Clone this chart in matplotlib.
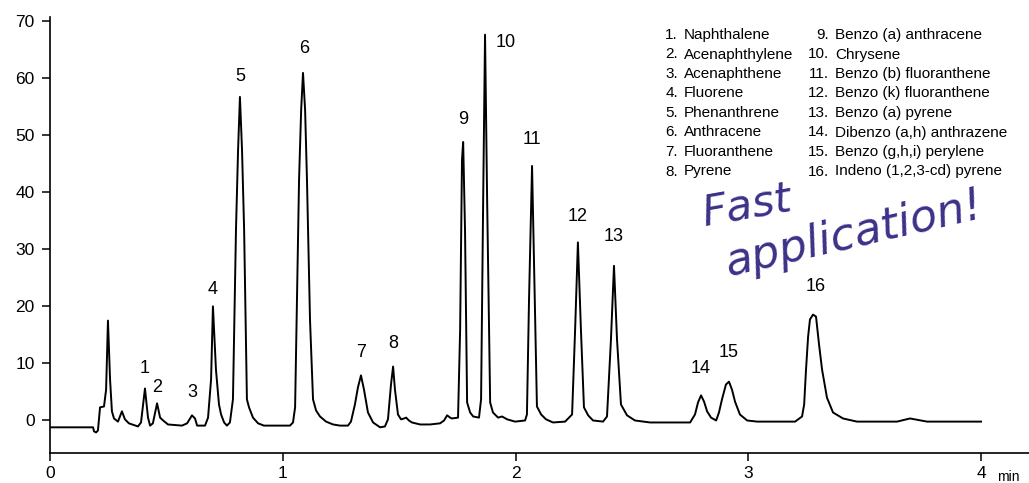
import matplotlib
matplotlib.use('Agg')
import matplotlib.pyplot as plt

plt.rcParams['font.family'] = ['Liberation Sans', 'DejaVu Sans']

# chromatogram trace (time in min, signal)
time = [0.0, 0.185, 0.189, 0.198, 0.206, 0.215, 0.232, 0.241, 0.249, 0.258,
        0.266, 0.275, 0.292, 0.309, 0.322, 0.339, 0.378, 0.391, 0.408, 0.421,
        0.430, 0.442, 0.460, 0.473, 0.486, 0.507, 0.567, 0.589, 0.610, 0.623,
        0.632, 0.666, 0.679, 0.692, 0.700, 0.713, 0.726, 0.735, 0.748, 0.760,
        0.773, 0.786, 0.799, 0.808, 0.816, 0.825, 0.834, 0.846, 0.855, 0.872,
        0.894, 0.919, 1.031, 1.044, 1.053, 1.061, 1.070, 1.079, 1.087, 1.096,
        1.104, 1.117, 1.130, 1.143, 1.160, 1.186, 1.216, 1.246, 1.280, 1.293,
        1.310, 1.323, 1.336, 1.349, 1.366, 1.388, 1.418, 1.439, 1.452, 1.465,
        1.474, 1.482, 1.495, 1.508, 1.521, 1.530, 1.542, 1.555, 1.590, 1.633,
        1.676, 1.693, 1.706, 1.719, 1.727, 1.753, 1.762, 1.770, 1.775, 1.783,
        1.792, 1.805, 1.818, 1.843, 1.852, 1.861, 1.869, 1.878, 1.891, 1.903,
        1.925, 1.942, 1.964, 1.998, 2.041, 2.049, 2.058, 2.071, 2.079, 2.092,
        2.110, 2.131, 2.161, 2.213, 2.243, 2.256, 2.268, 2.281, 2.294, 2.312,
        2.333, 2.376, 2.393, 2.410, 2.423, 2.436, 2.453, 2.479, 2.513, 2.578,
        2.750, 2.771, 2.784, 2.797, 2.810, 2.823, 2.840, 2.862, 2.874, 2.887,
        2.904, 2.917, 2.930, 2.943, 2.964, 2.995, 3.038, 3.201, 3.231, 3.240,
        3.248, 3.257, 3.265, 3.278, 3.291, 3.304, 3.317, 3.338, 3.364, 3.407,
        3.467, 3.639, 3.695, 3.768, 4.0]
signal = [-1.2, -1.2, -1.9, -2.1, -1.75, 2.3, 2.45, 5.4, 17.5, 7.2,
          1.6, 0.35, -0.2, 1.6, 0.2, -0.5, -1.05, -0.35, 5.6, 0.5,
          -0.9, -0.5, 3.0, 0.5, 0.0, -0.7, -0.9, -0.5, 0.9, 0.35,
          -0.9, -0.9, 0.5, 7.2, 20.0, 8.9, 2.8, 1.05, -0.35, -0.9,
          -0.35, 3.7, 33.4, 47.4, 56.7, 47.4, 33.4, 3.7, 2.3, 0.5,
          -0.5, -0.9, -0.9, -0.35, 2.3, 21.2, 42.2, 54.4, 60.9, 54.4,
          42.2, 17.7, 3.7, 1.75, 0.7, -0.2, -0.7, -0.9, -0.9, -0.2,
          2.8, 5.8, 7.9, 5.4, 1.4, -0.35, -1.2, -1.05, 0.2, 6.3,
          9.45, 5.4, 1.05, 0.2, 0.35, 0.5, 0.0, -0.35, -0.7, -0.7,
          -0.5, 0.0, 0.9, 0.5, 0.35, 0.5, 15.9, 45.7, 48.8, 33.4,
          3.15, 1.4, 0.7, 0.5, 3.7, 38.7, 67.6, 38.7, 3.15, 1.4,
          0.5, 0.7, 0.2, -0.2, 0.0, 1.05, 21.2, 44.6, 28.2, 2.45,
          1.05, 0.2, -0.35, -0.2, 1.05, 15.9, 31.2, 15.9, 2.3, 0.9,
          0.0, -0.2, 0.7, 14.2, 27.1, 14.2, 2.8, 0.9, 0.0, -0.35,
          -0.35, 1.05, 3.15, 4.4, 3.3, 1.6, 0.5, 0.0, 1.4, 3.7,
          6.3, 6.8, 5.4, 3.3, 1.05, 0.0, -0.2, -0.2, 0.7, 2.8,
          8.9, 14.7, 17.7, 18.55, 18.2, 13.3, 8.9, 4.0, 1.4, 0.35,
          -0.2, -0.2, 0.35, -0.2, -0.2]

# peak numbers and where they sit
peak_ids = ['1', '2', '3', '4', '5', '6', '7', '8',
            '9', '10', '11', '12', '13', '14', '15', '16']
peak_x = [0.408, 0.460, 0.610, 0.700, 0.816, 1.091, 1.336, 1.474,
          1.775, 1.959, 2.071, 2.268, 2.423, 2.797, 2.917, 3.291]
peak_y = [9.1, 5.8, 4.9, 22.9, 60.2, 65.1, 11.9, 13.5,
          52.7, 66.3, 49.2, 35.7, 32.2, 9.1, 11.9, 23.5]

compounds = ['Naphthalene', 'Acenaphthylene', 'Acenaphthene', 'Fluorene',
             'Phenanthrene', 'Anthracene', 'Fluoranthene', 'Pyrene',
             'Benzo (a) anthracene', 'Chrysene', 'Benzo (b) fluoranthene',
             'Benzo (k) fluoranthene', 'Benzo (a) pyrene',
             'Dibenzo (a,h) anthrazene', 'Benzo (g,h,i) perylene',
             'Indeno (1,2,3-cd) pyrene']

W, H = 1029, 483
fig = plt.figure(figsize=(W / 100, H / 100), dpi=100)
ax = fig.add_axes([50 / W, 1 - 453 / H, 979 / W, 436 / H])

ax.plot(time, signal, color='black', lw=1.4)

for lab, px, py in zip(peak_ids, peak_x, peak_y):
    ax.text(px, py, lab, ha='center', va='center', fontsize=13)

ax.set_xlim(0, 4.206)
ax.set_ylim(-5.7, 70.7)
ax.set_xticks([0, 1, 2, 3, 4])
ax.set_yticks(range(0, 71, 10))
ax.spines['top'].set_visible(False)
ax.spines['right'].set_visible(False)
ax.spines['left'].set_linewidth(1.2)
ax.spines['bottom'].set_linewidth(1.2)
ax.tick_params(direction='out', length=6, width=1.1, labelsize=12.5)
ax.tick_params(axis='x', pad=3)
ax.tick_params(axis='y', pad=5)
ax.text(4.07, -0.055, 'min', transform=ax.get_xaxis_transform(),
        ha='left', va='center', fontsize=10)

# compound list, two columns
for i, name in enumerate(compounds):
    col = i // 8
    row = i % 8
    y = 1 - (35 + row * 19.5) / H
    xn = (678 if col == 0 else 829) / W
    xt = (684 if col == 0 else 835) / W
    fig.text(xn, y, '%d.' % (i + 1), ha='right', va='center', fontsize=11)
    fig.text(xt, y, name, ha='left', va='center', fontsize=11)

# handwritten note
ink = '#3b3188'
fig.text(705 / W, 1 - 226 / H, 'Fast', color=ink, fontsize=31, style='italic',
         rotation=10, rotation_mode='anchor', ha='left', va='baseline',
         family=['DejaVu Sans'], fontweight='light')
fig.text(728 / W, 1 - 276 / H, 'application!', color=ink, fontsize=32,
         style='italic', rotation=13, rotation_mode='anchor', ha='left',
         va='baseline', family=['DejaVu Sans'], fontweight='light')

fig.savefig('out.png', dpi=100)
